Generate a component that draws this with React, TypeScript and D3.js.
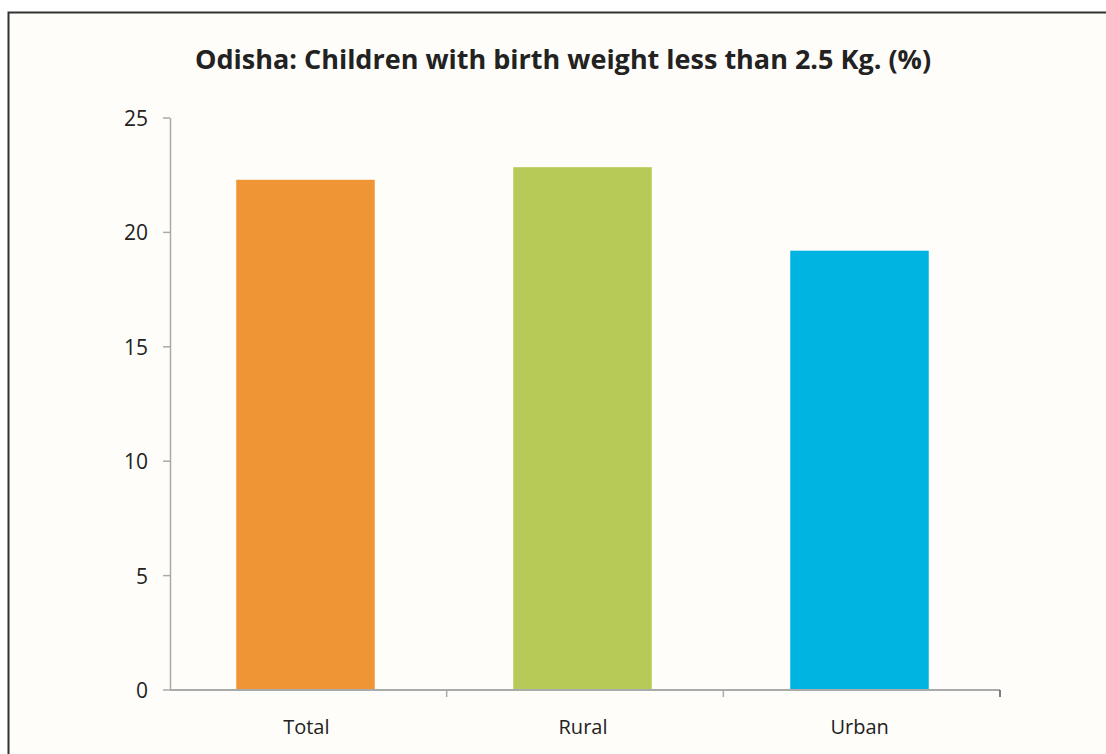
import React from "react";
import * as d3 from "d3";

const categories = ["Total", "Rural", "Urban"];
const values = [22.3, 22.85, 19.2];
const colors = ["#F09535", "#B7C956", "#00B4E2"];
const yTicks = [0, 5, 10, 15, 20, 25];
const title = "Odisha: Children with birth weight less than 2.5 Kg. (%)";

export default function App() {
  const W = 1106, H = 754;
  const x0 = 170, x1 = 1000, yTop = 118, yBot = 690;
  const x = d3.scaleBand<string>().domain(categories).range([x0 - 3, x1 - 2]).paddingInner(0.5).paddingOuter(0.25);
  const y = d3.scaleLinear().domain([0, 25]).range([yBot, yTop]);
  const band = d3.scaleBand<string>().domain(categories).range([x0, x1]);
  const font = "'Open Sans', sans-serif";
  const axisColor = "#A9ABAB";
  return (
    <svg width={W} height={H} style={{ position: "absolute", left: 0, top: 0, background: "#fff" }}>
      <rect x={8.5} y={12.5} width={W + 10} height={H + 10} fill="#FFFDF9" stroke="#333" strokeWidth={2} />
      <text x={563} y={69} textAnchor="middle" fontFamily={font} fontWeight="bold" fontSize={27} fill="#222">
        {title}
      </text>
      {values.map((v, i) => (
        <rect key={i} x={x(categories[i])} y={y(v)} width={x.bandwidth()} height={yBot - y(v)} fill={colors[i]} />
      ))}
      <line x1={x0 + 0.5} x2={x0 + 0.5} y1={yTop} y2={yBot} stroke={axisColor} strokeWidth={1.5} />
      {yTicks.map((t) => (
        <g key={t}>
          <line x1={x0 - 7} x2={x0} y1={y(t)} y2={y(t)} stroke={axisColor} strokeWidth={1.5} />
          <text x={148} y={y(t) + 8} textAnchor="end" fontFamily={font} fontSize={21} fill="#222">
            {t}
          </text>
        </g>
      ))}
      <line x1={x0} x2={x1} y1={yBot} y2={yBot} stroke={axisColor} strokeWidth={2} />
      {categories.map((c, i) => (
        <g key={c}>
          {i > 0 && <line x1={band(c)} x2={band(c)} y1={yBot} y2={yBot + 7} stroke={axisColor} strokeWidth={1.5} />}
          <text x={(band(c) as number) + band.bandwidth() / 2 - 2} y={734} textAnchor="middle" fontFamily={font} fontSize={20} fill="#222">
            {c}
          </text>
        </g>
      ))}
      <line x1={x1} x2={x1} y1={yBot} y2={yBot + 7} stroke="#555" strokeWidth={1.5} />
    </svg>
  );
}
